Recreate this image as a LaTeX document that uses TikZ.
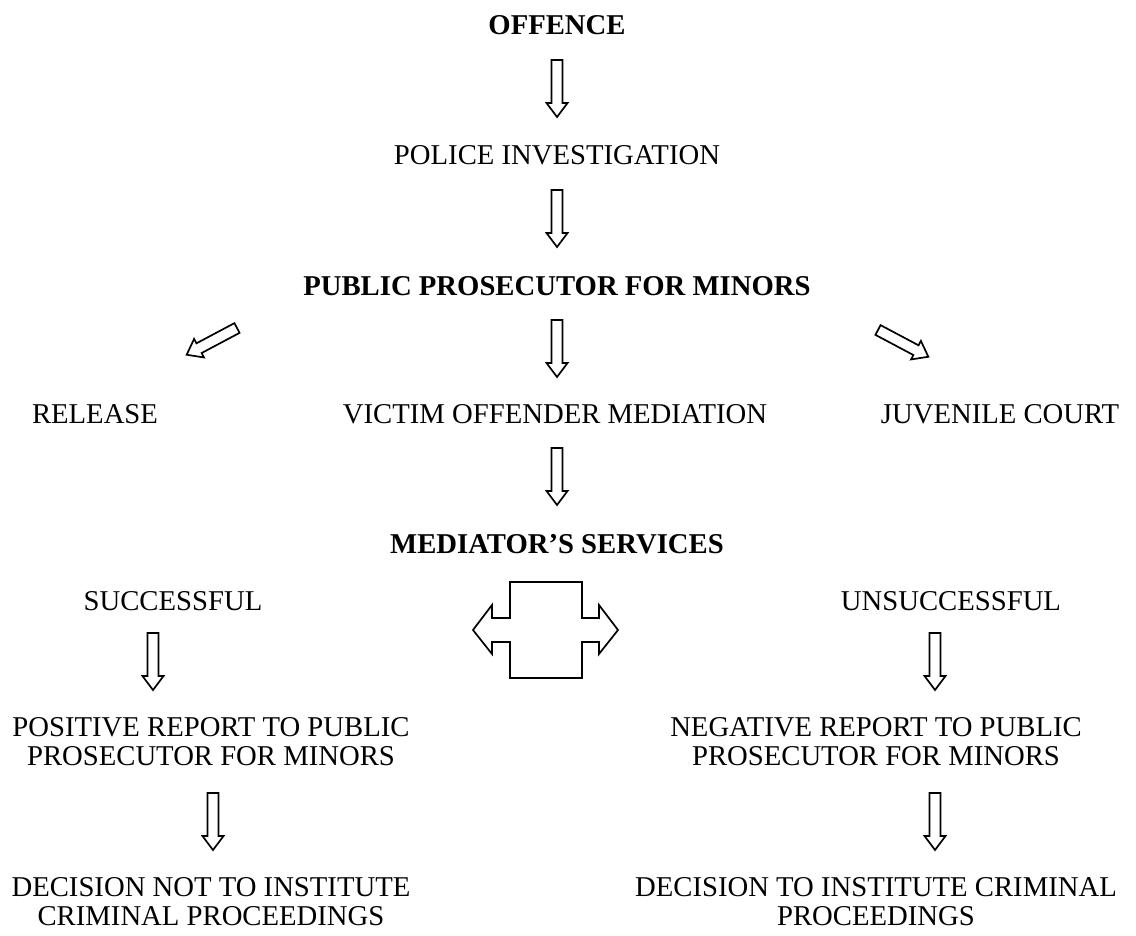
\documentclass[tikz,border=0pt]{standalone}
\usepackage{fontspec}
\setmainfont{Liberation Serif}
\begin{document}
\begin{tikzpicture}[x=1pt,y=-1pt,
  lbl/.style={font=\fontsize{28.7}{28.3}\selectfont, inner sep=0pt, anchor=base},
  hdr/.style={font=\fontsize{28.7}{28.3}\selectfont\bfseries, inner sep=0pt, anchor=base},
  two/.style={font=\fontsize{28.7}{28.3}\selectfont, inner sep=0pt, align=center, anchor=center},
  blk/.style={draw=black, fill=white, line width=1.7pt, line join=miter},
  barrow/.pic={\draw[blk] (-5.5,0) -- (-5.5,43) -- (-10.5,43) -- (0,57) -- (10.5,43) -- (5.5,43) -- (5.5,0) -- cycle;}
]
\useasboundingbox (0,0) rectangle (1136,936);

% texts
\node[hdr] (offence) at (557,35) {OFFENCE};
\node[lbl] (police) at (557,165) {POLICE INVESTIGATION};
\node[hdr] (ppm) at (557,295) {PUBLIC PROSECUTOR FOR MINORS};
\node[lbl] (release) at (95,423) {RELEASE};
\node[lbl] (vom) at (555,423) {VICTIM OFFENDER MEDIATION};
\node[lbl] (juv) at (1000,423) {JUVENILE COURT};
\node[hdr] (med) at (557,553) {MEDIATOR’S SERVICES};
\node[lbl] (succ) at (173,610) {SUCCESSFUL};
\node[lbl] (unsucc) at (951,610) {UNSUCCESSFUL};
\node[two] (pos) at (211,741.5) {POSITIVE REPORT TO PUBLIC\\PROSECUTOR FOR MINORS};
\node[two] (neg) at (876,741.5) {NEGATIVE REPORT TO PUBLIC\\PROSECUTOR FOR MINORS};
\node[two] (dnot) at (211,901.5) {DECISION NOT TO INSTITUTE\\CRIMINAL PROCEEDINGS};
\node[two] (dyes) at (876,901.5) {DECISION TO INSTITUTE CRIMINAL\\PROCEEDINGS};

% block arrows
\coordinate (a1) at (557,60);
\coordinate (a2) at (557,190);
\coordinate (a3) at (557,320);
\coordinate (a4) at (557,448);
\coordinate (al) at (237,328);
\coordinate (ar) at (878,330);
\coordinate (as) at (153,633);
\coordinate (au) at (935,633);
\coordinate (ap) at (213,793);
\coordinate (an) at (935,793);
\pic at (a1) {barrow};
\pic at (a2) {barrow};
\pic at (a3) {barrow};
\pic at (a4) {barrow};
\pic[rotate=-62] at (al) {barrow};
\pic[rotate=62] at (ar) {barrow};
\pic at (as) {barrow};
\pic at (au) {barrow};
\pic at (ap) {barrow};
\pic at (an) {barrow};

% double-headed block arrow
\draw[blk] (510,582) -- (582,582) -- (582,618) -- (599,618) -- (599,605) -- (618,630)
  -- (599,654) -- (599,642) -- (582,642) -- (582,678) -- (510,678) -- (510,642)
  -- (492,642) -- (492,654) -- (473,630) -- (492,605) -- (492,618) -- (510,618) -- cycle;
\end{tikzpicture}
\end{document}
